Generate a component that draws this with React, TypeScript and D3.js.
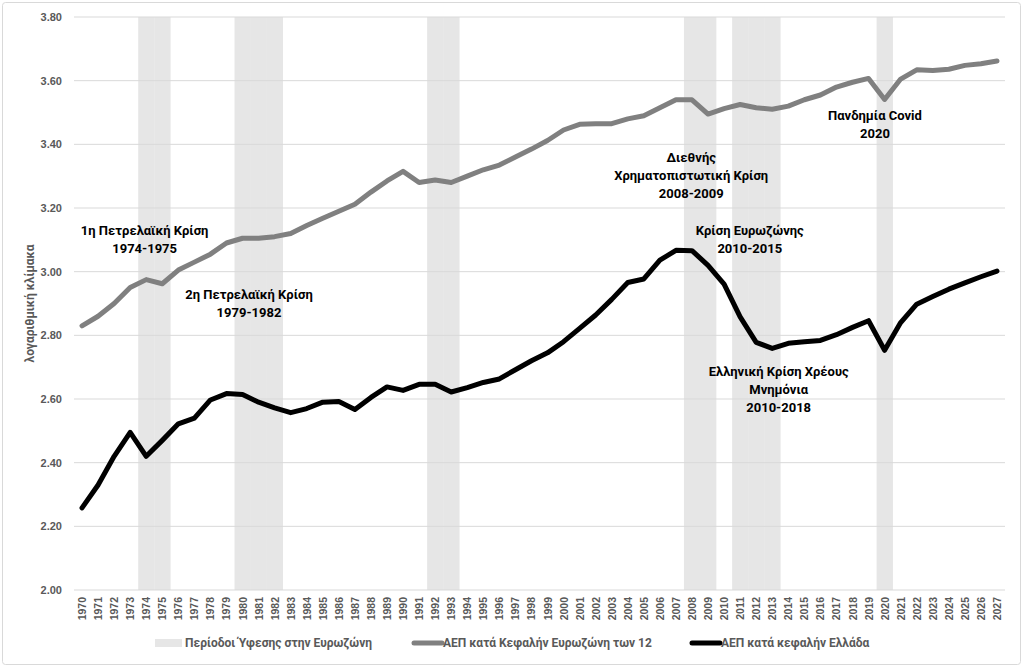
import React, { useEffect, useRef } from 'react';
import * as d3 from 'd3';

const years: number[] = d3.range(1970, 2028);

const eurozone: number[] = [
    2.83, 2.86, 2.90, 2.95, 2.975, 2.962, 3.005, 3.03, 3.055, 3.09,
    3.105, 3.105, 3.11, 3.12, 3.145, 3.168, 3.19, 3.212, 3.25, 3.285,
    3.315, 3.28, 3.288, 3.28, 3.30, 3.32, 3.335, 3.36, 3.385, 3.412,
    3.445, 3.463, 3.465, 3.465, 3.48, 3.49, 3.515, 3.54, 3.54, 3.495,
    3.512, 3.525, 3.515, 3.51, 3.52, 3.54, 3.555, 3.58, 3.595, 3.607,
    3.541, 3.605, 3.634, 3.632, 3.636, 3.648, 3.653, 3.662,
];

const greece: number[] = [
    2.258, 2.33, 2.42, 2.495, 2.42, 2.47, 2.522, 2.54, 2.597, 2.617,
    2.614, 2.59, 2.572, 2.557, 2.57, 2.59, 2.592, 2.567, 2.605, 2.638,
    2.627, 2.646, 2.646, 2.622, 2.636, 2.652, 2.663, 2.692, 2.72, 2.745,
    2.78, 2.822, 2.864, 2.913, 2.966, 2.977, 3.036, 3.067, 3.066, 3.02,
    2.961, 2.858, 2.778, 2.759, 2.775, 2.78, 2.784, 2.802, 2.825, 2.846,
    2.753, 2.84, 2.898, 2.922, 2.945, 2.965, 2.984, 3.002,
];

const recessionYears: number[] = [1974, 1975, 1980, 1981, 1982, 1992, 1993, 2008, 2009, 2011, 2012, 2013, 2020];

const yTicks: number[] = [2.0, 2.2, 2.4, 2.6, 2.8, 3.0, 3.2, 3.4, 3.6, 3.8];

// x is a fractional year position, v the value at the first text line
const annotations: { lines: string[]; x: number; v: number }[] = [
    { lines: ['1η Πετρελαϊκή Κρίση', '1974-1975'], x: 1974.4, v: 3.131 },
    { lines: ['2η Πετρελαϊκή Κρίση', '1979-1982'], x: 1980.9, v: 2.927 },
    { lines: ['Διεθνής', 'Χρηματοπιστωτική Κρίση', '2008-2009'], x: 2008.45, v: 3.36 },
    { lines: ['Κρίση Ευρωζώνης', '2010-2015'], x: 2012.1, v: 3.128 },
    { lines: ['Ελληνική Κρίση Χρέους', 'Μνημόνια', '2010-2018'], x: 2013.9, v: 2.688 },
    { lines: ['Πανδημία Covid', '2020'], x: 2019.9, v: 3.492 },
];

const legendItems = [
    { label: 'Περίοδοι Ύφεσης στην Ευρωζώνη', kind: 'rect', color: '#e6e6e6', x: 155 },
    { label: 'ΑΕΠ κατά Κεφαλήν Ευρωζώνη των 12', kind: 'line', color: '#808080', x: 412 },
    { label: 'ΑΕΠ κατά κεφαλήν Ελλάδα', kind: 'line', color: '#000000', x: 690 },
];

const App: React.FC = () => {
    const chartRef = useRef<SVGSVGElement | null>(null);

    useEffect(() => {
        if (!chartRef.current) return;

        const width = 1023;
        const height = 667;
        const margin = { top: 17, right: 18, bottom: 77, left: 74 };
        const innerW = width - margin.left - margin.right;
        const innerH = height - margin.top - margin.bottom;

        d3.select(chartRef.current).selectAll('*').remove();

        const root = d3.select(chartRef.current)
            .attr('width', width)
            .attr('height', height);

        // frame
        root.append('rect')
            .attr('x', 2.5)
            .attr('y', 2.5)
            .attr('width', width - 5)
            .attr('height', height - 5)
            .attr('rx', 3)
            .attr('fill', '#fff')
            .attr('stroke', '#d9d9d9');

        const svg = root.append('g')
            .attr('transform', `translate(${margin.left}, ${margin.top})`);

        const x = d3.scaleBand<number>()
            .domain(years)
            .range([0, innerW])
            .padding(0);

        const y = d3.scaleLinear()
            .domain([2.0, 3.8])
            .range([innerH, 0]);

        const cx = (yr: number) => x(yr)! + x.bandwidth() / 2;

        // recession bars
        svg.selectAll('rect.rec')
            .data(recessionYears)
            .enter()
            .append('rect')
            .attr('class', 'rec')
            .attr('x', d => x(d)!)
            .attr('y', y(3.8))
            .attr('width', x.bandwidth() + 0.3)
            .attr('height', innerH)
            .attr('fill', '#e6e6e6');

        // grid
        svg.selectAll('line.grid')
            .data(yTicks)
            .enter()
            .append('line')
            .attr('class', 'grid')
            .attr('x1', 0)
            .attr('x2', innerW)
            .attr('y1', d => y(d))
            .attr('y2', d => y(d))
            .attr('stroke', '#d9d9d9')
            .attr('stroke-width', 1);

        // y tick labels
        svg.selectAll('text.ytick')
            .data(yTicks)
            .enter()
            .append('text')
            .attr('class', 'ytick')
            .attr('x', -12)
            .attr('y', d => y(d))
            .attr('dy', '0.35em')
            .attr('text-anchor', 'end')
            .style('font-family', '"Liberation Sans", Arial, sans-serif')
            .style('font-weight', 'bold')
            .style('font-size', '11px')
            .style('fill', '#595959')
            .text(d => d.toFixed(2));

        // x tick labels
        svg.selectAll('text.xtick')
            .data(years)
            .enter()
            .append('text')
            .attr('class', 'xtick')
            .attr('transform', d => `translate(${cx(d) + 4}, ${innerH + 7}) rotate(-90)`)
            .attr('text-anchor', 'end')
            .style('font-family', '"Liberation Sans", Arial, sans-serif')
            .style('font-weight', 'bold')
            .style('font-size', '10.5px')
            .style('fill', '#595959')
            .text(d => String(d));

        // y axis title
        root.append('text')
            .attr('transform', `translate(${34}, ${margin.top + y(2.9)}) rotate(-90)`)
            .attr('text-anchor', 'middle')
            .style('font-family', 'Roboto, sans-serif')
            .style('font-weight', 'bold')
            .style('font-size', '12px')
            .style('fill', '#595959')
            .text('λογαριθμική κλίμακα');

        const line = d3.line<number>()
            .x((d, i) => cx(years[i]))
            .y(d => y(d));

        svg.append('path')
            .datum(eurozone)
            .attr('d', line)
            .attr('fill', 'none')
            .attr('stroke', '#808080')
            .attr('stroke-width', 5)
            .attr('stroke-linejoin', 'round')
            .attr('stroke-linecap', 'round');

        svg.append('path')
            .datum(greece)
            .attr('d', line)
            .attr('fill', 'none')
            .attr('stroke', '#000')
            .attr('stroke-width', 5)
            .attr('stroke-linejoin', 'round')
            .attr('stroke-linecap', 'round');

        // annotations
        const ann = svg.selectAll('g.ann')
            .data(annotations)
            .enter()
            .append('g')
            .attr('class', 'ann')
            .attr('transform', d => `translate(${x(Math.floor(d.x))! + (d.x - Math.floor(d.x)) * x.bandwidth()}, ${y(d.v)})`);

        ann.selectAll('text')
            .data(d => d.lines)
            .enter()
            .append('text')
            .attr('x', 0)
            .attr('y', (d, i) => i * 18)
            .attr('dy', '0.35em')
            .attr('text-anchor', 'middle')
            .style('font-family', 'Roboto, sans-serif')
            .style('font-weight', 'bold')
            .style('font-size', '13px')
            .style('fill', '#000')
            .text(d => d);

        // legend
        const legendY = 643;
        const lg = root.selectAll('g.legend')
            .data(legendItems)
            .enter()
            .append('g')
            .attr('class', 'legend')
            .attr('transform', d => `translate(${d.x}, ${legendY})`);

        lg.filter(d => d.kind === 'rect')
            .append('rect')
            .attr('x', 0)
            .attr('y', -4)
            .attr('width', 27)
            .attr('height', 8)
            .attr('fill', d => d.color);

        lg.filter(d => d.kind === 'line')
            .append('line')
            .attr('x1', 2)
            .attr('x2', 30)
            .attr('y1', 0)
            .attr('y2', 0)
            .attr('stroke', d => d.color)
            .attr('stroke-width', 5)
            .attr('stroke-linecap', 'round');

        lg.append('text')
            .attr('x', d => (d.kind === 'rect' ? 30 : 31))
            .attr('y', 0)
            .attr('dy', '0.35em')
            .style('font-family', 'Roboto, sans-serif')
            .style('font-weight', 'bold')
            .style('font-size', '12px')
            .style('fill', '#595959')
            .text(d => d.label);
    }, []);

    return <svg ref={chartRef} style={{ position: 'absolute', left: 0, top: 0 }} />;
};

export default App;
